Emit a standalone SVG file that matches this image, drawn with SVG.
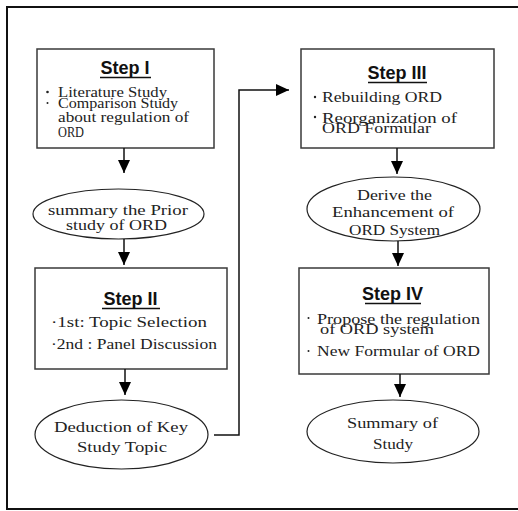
<svg xmlns="http://www.w3.org/2000/svg" width="518" height="511" viewBox="0 0 518 511">
<defs>
<style>
.frame{fill:none;stroke:#111;stroke-width:2}
.box{fill:#fff;stroke:#3a3a3a;stroke-width:1.5}
.ell{fill:#fff;stroke:#222;stroke-width:1.2}
.t{font-family:"Liberation Serif","Times New Roman",serif;font-size:15px;fill:#222}
.h{font-family:"Liberation Sans",Arial,sans-serif;font-size:18px;font-weight:bold;fill:#111;text-anchor:middle}
.ul{stroke:#111;stroke-width:1.3}
.c{fill:none;stroke:#111;stroke-width:1.5}
.bul{fill:#222}
</style>
<marker id="ah" viewBox="0 0 13 12" refX="13" refY="6" markerWidth="13" markerHeight="12" markerUnits="userSpaceOnUse" orient="auto">
<path d="M0,0 L13,6 L0,12 z" fill="#000"/>
</marker>
</defs>
<rect x="0" y="0" width="518" height="511" fill="#fff"/>
<rect class="frame" x="7" y="7" width="530" height="502"/>

<g id="step1">
<rect class="box" x="37" y="49" width="177" height="99"/>
<text class="h" x="125" y="74">Step I</text>
<line class="ul" x1="100" y1="77.5" x2="151" y2="77.5"/>
<circle class="bul" cx="47.5" cy="92" r="1.3"/>
<circle class="bul" cx="47.5" cy="103" r="1"/>
<text class="t" x="58" y="97" textLength="109" lengthAdjust="spacingAndGlyphs">Literature Study</text>
<text class="t" x="58" y="108" textLength="120" lengthAdjust="spacingAndGlyphs">Comparison Study</text>
<text class="t" x="58" y="122" textLength="131" lengthAdjust="spacingAndGlyphs">about regulation of</text>
<text class="t" x="58" y="137" textLength="26" lengthAdjust="spacingAndGlyphs">ORD</text>
</g>

<g id="summary1">
<ellipse class="ell" cx="118.5" cy="214" rx="85.5" ry="25"/>
<text class="t" x="48" y="215" textLength="140" lengthAdjust="spacingAndGlyphs">summary the Prior</text>
<text class="t" x="66" y="230" textLength="101" lengthAdjust="spacingAndGlyphs">study of ORD</text>
</g>

<g id="step2">
<rect class="box" x="35" y="268" width="192" height="101"/>
<text class="h" x="130.5" y="305">Step II</text>
<line class="ul" x1="102" y1="308.5" x2="160" y2="308.5"/>
<text class="t" x="51" y="327" textLength="156" lengthAdjust="spacingAndGlyphs">·1st: Topic Selection</text>
<text class="t" x="51" y="349" textLength="166" lengthAdjust="spacingAndGlyphs">·2nd : Panel Discussion</text>
</g>

<g id="deduction">
<ellipse class="ell" cx="121.5" cy="434.5" rx="86.5" ry="34.5"/>
<text class="t" x="54" y="432" textLength="134" lengthAdjust="spacingAndGlyphs">Deduction of Key</text>
<text class="t" x="77" y="452" textLength="90" lengthAdjust="spacingAndGlyphs">Study Topic</text>
</g>

<g id="step3">
<rect class="box" x="301" y="49" width="193" height="99"/>
<text class="h" x="397" y="79">Step III</text>
<line class="ul" x1="368" y1="82.5" x2="427" y2="82.5"/>
<circle class="bul" cx="315" cy="97" r="1.2"/>
<circle class="bul" cx="315" cy="117" r="1.2"/>
<text class="t" x="322" y="102" textLength="120" lengthAdjust="spacingAndGlyphs">Rebuilding ORD</text>
<text class="t" x="322" y="123" textLength="135" lengthAdjust="spacingAndGlyphs">Reorganization of</text>
<text class="t" x="322" y="133" textLength="109" lengthAdjust="spacingAndGlyphs">ORD Formular</text>
</g>

<g id="enhancement">
<ellipse class="ell" cx="393.5" cy="209" rx="86.5" ry="32"/>
<text class="t" x="357" y="200" textLength="75" lengthAdjust="spacingAndGlyphs">Derive the</text>
<text class="t" x="332" y="217" textLength="122" lengthAdjust="spacingAndGlyphs">Enhancement of</text>
<text class="t" x="349" y="235" textLength="91" lengthAdjust="spacingAndGlyphs">ORD System</text>
</g>

<g id="step4">
<rect class="box" x="299" y="268" width="190" height="106"/>
<text class="h" x="392.5" y="300">Step IV</text>
<line class="ul" x1="365" y1="303.5" x2="421" y2="303.5"/>
<circle class="bul" cx="308.5" cy="318" r="1"/>
<circle class="bul" cx="308.5" cy="351" r="1"/>
<text class="t" x="317" y="324" textLength="163" lengthAdjust="spacingAndGlyphs">Propose the regulation</text>
<text class="t" x="320" y="334" textLength="114" lengthAdjust="spacingAndGlyphs">of ORD system</text>
<text class="t" x="317" y="356" textLength="163" lengthAdjust="spacingAndGlyphs">New Formular of ORD</text>
</g>

<g id="summary2">
<ellipse class="ell" cx="393" cy="431.5" rx="86" ry="31.5"/>
<text class="t" x="347" y="428" textLength="91" lengthAdjust="spacingAndGlyphs">Summary of</text>
<text class="t" x="373" y="449" textLength="40" lengthAdjust="spacingAndGlyphs">Study</text>
</g>

<g id="connectors">
<line class="c" x1="124" y1="148" x2="124" y2="173" marker-end="url(#ah)"/>
<line class="c" x1="124" y1="239" x2="124" y2="265" marker-end="url(#ah)"/>
<line class="c" x1="125" y1="369" x2="125" y2="395" marker-end="url(#ah)"/>
<polyline class="c" points="214,435 239,435 239,90 289,90" marker-end="url(#ah)"/>
<line class="c" x1="397" y1="148" x2="397" y2="174" marker-end="url(#ah)"/>
<line class="c" x1="398" y1="241" x2="398" y2="266" marker-end="url(#ah)"/>
<line class="c" x1="400" y1="374" x2="400" y2="397" marker-end="url(#ah)"/>
</g>
</svg>
